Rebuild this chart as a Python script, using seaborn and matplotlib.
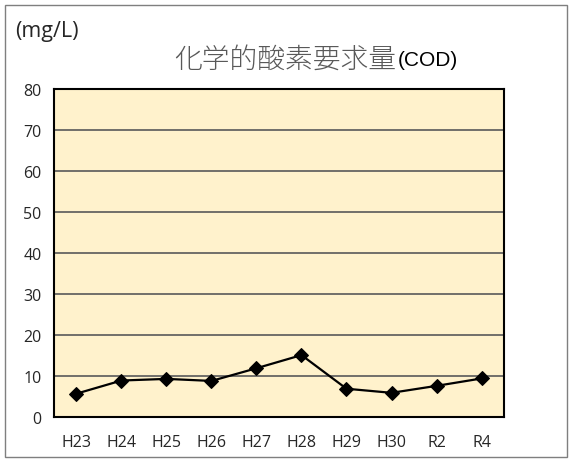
import matplotlib
matplotlib.use("Agg")
import matplotlib.pyplot as plt
import seaborn as sns
import pandas as pd
from matplotlib.patches import Rectangle
from matplotlib.ticker import FixedLocator

# データ
years = ["H23", "H24", "H25", "H26", "H27", "H28", "H29", "H30", "R2", "R4"]
cod = [5.7, 8.9, 9.3, 8.8, 11.9, 15.1, 6.9, 5.9, 7.6, 9.4]
yticks = [0, 10, 20, 30, 40, 50, 60, 70, 80]

df = pd.DataFrame({"year": years, "cod": cod, "pos": range(len(years))})

sns.set_style("white")
plt.rcParams["font.family"] = ["Open Sans", "Noto Sans CJK JP", "DejaVu Sans"]

fig = plt.figure(figsize=(5.73, 4.64), dpi=100)
ax = fig.add_axes([0.0942, 0.0991, 0.7854, 0.7069])
ax.set_facecolor("#FFF2CC")

sns.lineplot(data=df, x="pos", y="cod", ax=ax, color="black", linewidth=1.6,
             marker="D", markersize=7, markeredgecolor="black", zorder=3)

ax.set_xlim(-0.5, len(years) - 0.5)
ax.set_ylim(0, 80)
ax.set_yticks(yticks)
ax.set_yticklabels([str(v) for v in yticks], fontsize=11.5)
ax.set_xticks(range(len(years)))
ax.set_xticklabels(years, fontsize=11.5)
ax.xaxis.set_minor_locator(FixedLocator([i + 0.5 for i in range(len(years) - 1)]))
ax.tick_params(axis="x", which="major", length=0, pad=12)
ax.tick_params(axis="x", which="minor", direction="in", length=5, width=1, color="#404040")
ax.tick_params(axis="y", length=0, pad=9)
ax.grid(axis="y", color="#595959", linewidth=1.2)
ax.set_axisbelow(True)
ax.set_xlabel("")
ax.set_ylabel("")
for s in ax.spines.values():
    s.set_color("black")
    s.set_linewidth(1.5)

# 外枠
fig.patches.append(Rectangle((5 / 573, 6 / 464), 562 / 573, 452 / 464,
                             transform=fig.transFigure, fill=False,
                             edgecolor="#7f7f7f", linewidth=1))

fig.text(15 / 573, 1 - 31 / 464, "(mg/L)", fontsize=15.5, va="center", ha="left")
t1 = fig.text(174 / 573, 1 - 60 / 464, "化学的酸素要求量", fontsize=20,
              color="#595959", va="center", ha="left",
              family=["Noto Sans CJK JP", "DejaVu Sans"], fontweight="light")
ax.annotate("(COD)", xy=(1, 0.5), xycoords=t1, xytext=(1, 0),
            textcoords="offset points", fontsize=15, color="black",
            va="center", ha="left", family=["Liberation Sans", "DejaVu Sans"],
            annotation_clip=False)

fig.savefig("out.png", dpi=100)
